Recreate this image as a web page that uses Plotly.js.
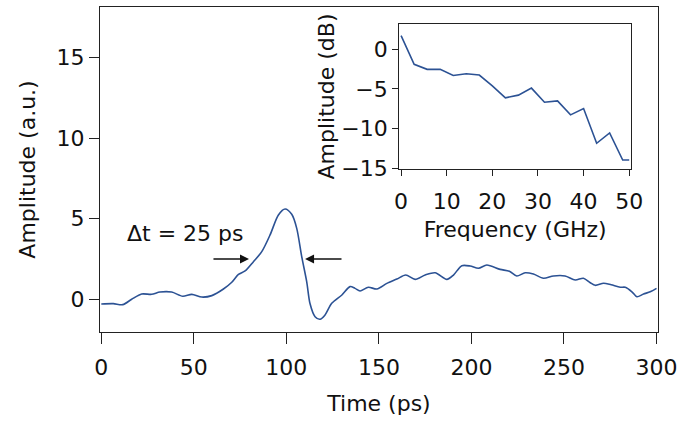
<!DOCTYPE html>
<html>
<head>
<meta charset="utf-8">
<script src="https://cdn.plot.ly/plotly-3.0.1.min.js"></script>
<style>html,body{margin:0;padding:0;background:#fff;}#chart{width:683px;height:423px;}</style>
</head>
<body>
<div id="chart"></div>
<script>
// Main time-domain trace
var timePs = [0,6.5,11.6,16.4,21.8,27.2,31.7,38,44,48.9,54.3,59.7,66,70.5,74.1,77.7,82.2,86.7,91.2,95.7,99.3,102.9,105.6,108.3,111,112.8,115.5,118.2,120.9,124.5,130,134.4,137.1,139.8,144.3,148.9,154.3,159.7,164.5,169.6,175,180.4,186.7,190.3,194.8,199.3,203.8,208.3,215.5,220.5,224.5,229,233.5,238.9,244.3,250.6,256.1,260.5,264.2,266.9,271.4,275.5,280.4,283.1,286.7,289.4,293,296.6,300];
var amplitude = [-0.31,-0.29,-0.35,-0.02,0.31,0.29,0.43,0.43,0.17,0.29,0.12,0.21,0.62,1.04,1.53,1.74,2.32,2.94,3.98,5.22,5.59,5.26,4.39,2.63,1.07,-0.3,-1.10,-1.26,-0.99,-0.27,0.25,0.77,0.66,0.50,0.73,0.62,0.97,1.24,1.49,1.22,1.49,1.63,1.22,1.49,2.07,2.05,1.91,2.11,1.84,1.72,1.43,1.63,1.55,1.29,1.43,1.43,1.18,1.29,1.01,0.85,0.98,0.88,0.73,0.73,0.45,0.14,0.31,0.45,0.66];

// Inset spectrum
var freqGHz = [0,2.86,5.71,8.57,11.43,14.29,17.14,20,22.86,25.71,28.57,31.43,34.29,37.14,40,42.86,45.71,48.57,50];
var ampDB = [1.73,-1.90,-2.53,-2.53,-3.30,-3.08,-3.25,-4.61,-6.13,-5.79,-4.90,-6.68,-6.51,-8.28,-7.48,-11.87,-10.56,-13.98,-13.98];

var mainTicks = [0,50,100,150,200,250,300];
var mainYTicks = [0,5,10,15];
var insetXTicks = [0,10,20,30,40,50];
var insetYTicks = [0,-5,-10,-15];

var lineColor = 'rgb(44,82,148)';
var fontFam = 'DejaVu Sans, Lucida Grande, sans-serif';

var traces = [
  {x: timePs, y: amplitude, type: 'scatter', mode: 'lines',
   line: {color: lineColor, width: 1.6, shape: 'spline', smoothing: 0.8},
   xaxis: 'x', yaxis: 'y', hoverinfo: 'skip'},
  {x: freqGHz, y: ampDB, type: 'scatter', mode: 'lines',
   line: {color: lineColor, width: 1.6},
   xaxis: 'x2', yaxis: 'y2', hoverinfo: 'skip'}
];

var axisCommon = {
  showgrid: false, zeroline: false, showline: true, linecolor: '#222', linewidth: 1,
  mirror: true, ticks: 'outside', tickcolor: '#222', tickwidth: 1,
  tickfont: {family: fontFam, size: 22, color: '#111'}
};

var layout = {
  width: 683, height: 423,
  margin: {l: 100, r: 25, t: 7, b: 91},
  paper_bgcolor: '#fff', plot_bgcolor: '#fff',
  showlegend: false,
  font: {family: fontFam, size: 22, color: '#111'},
  xaxis: Object.assign({}, axisCommon, {
    range: [-0.7, 300.8], tickvals: mainTicks, ticklen: 11, ticklabelstandoff: 5,
    title: {text: 'Time (ps)', font: {family: fontFam, size: 22, color: '#111'}, standoff: 16}
  }),
  yaxis: Object.assign({}, axisCommon, {
    range: [-2.05, 18.14], tickvals: mainYTicks, ticklen: 10,
    title: {text: 'Amplitude (a.u.)', font: {family: fontFam, size: 22, color: '#111'}, standoff: 14}
  }),
  xaxis2: Object.assign({}, axisCommon, {
    domain: [0.536, 0.952], anchor: 'y2', range: [-0.44, 50.44], tickvals: insetXTicks, ticklen: 6, ticklabelstandoff: 7,
    title: {text: 'Frequency (GHz)', font: {family: fontFam, size: 22, color: '#111'}, standoff: 8}
  }),
  yaxis2: Object.assign({}, axisCommon, {
    domain: [0.5015, 0.9477], anchor: 'x2', range: [-15.12, 3.2], tickvals: insetYTicks, ticklen: 6,
    title: {text: 'Amplitude (dB)', font: {family: fontFam, size: 22, color: '#111'}, standoff: 0}
  }),
  annotations: [
    {x: 45.5, y: 4.1, xref: 'x', yref: 'y', text: 'Δt = 25 ps', showarrow: false,
     font: {family: fontFam, size: 22, color: '#111'}},
    {x: 79.8, y: 2.48, ax: 59.8, ay: 2.48, xref: 'x', yref: 'y', axref: 'x', ayref: 'y',
     text: '', showarrow: true, arrowhead: 2, arrowsize: 1.2, arrowwidth: 1.5, arrowcolor: '#111', standoff: 0},
    {x: 110.1, y: 2.48, ax: 130.6, ay: 2.48, xref: 'x', yref: 'y', axref: 'x', ayref: 'y',
     text: '', showarrow: true, arrowhead: 2, arrowsize: 1.2, arrowwidth: 1.5, arrowcolor: '#111', standoff: 0}
  ]
};

Plotly.newPlot('chart', traces, layout, {staticPlot: true, displayModeBar: false});
</script>
</body>
</html>
